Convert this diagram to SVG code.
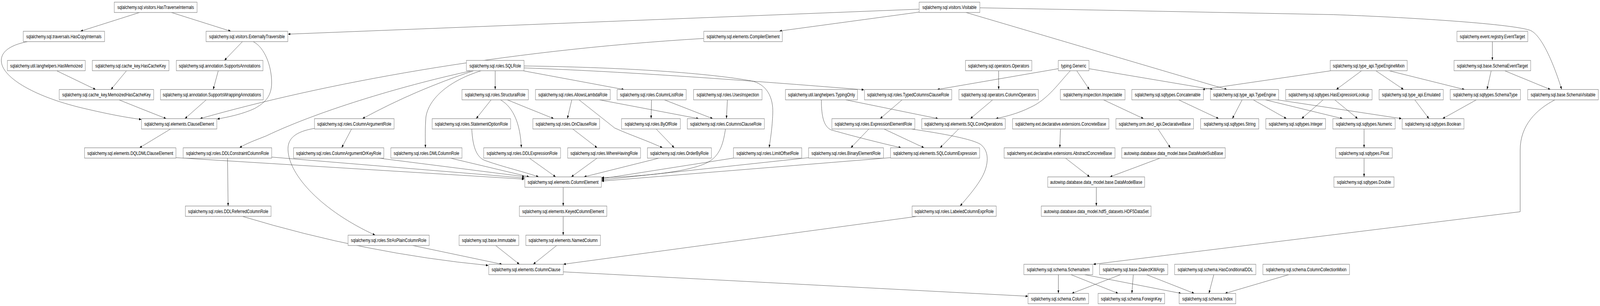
<svg xmlns="http://www.w3.org/2000/svg" width="5466" height="784" viewBox="0 0 5466 784" preserveAspectRatio="none" style="width:100vw;height:100vh;display:block">
<style>
.n rect{fill:#fff;stroke:#808080;stroke-width:1.2}
.n text{font-family:"Liberation Sans",Arial,sans-serif;font-size:13.3px;fill:#000;text-anchor:middle}
.e path{fill:none;stroke:#333;stroke-width:0.9;marker-end:url(#a)}
</style>
<defs>
<marker id="a" markerWidth="8" markerHeight="6" refX="8" refY="3" orient="auto" markerUnits="userSpaceOnUse"><path d="M0,0 L8,3 L0,6 z" fill="#000"/></marker>
</defs>
<rect width="5466" height="784" fill="#fff"/>
<g id="edges" class="e">
<path d="M476.7,32 L275,80"/>
<path d="M585.7,32 L788.3,80"/>
<path d="M94.3,106.6 C30,116 0,135 5,160 C12,200 120,250 300,280 C380,294 440,302 483,306"/>
<path d="M3140,23.5 L984,87.5"/>
<path d="M3140,31 L2663,79.5"/>
<path d="M3347.3,20 L4555,37.5 C4800,44 5150,60 5225,77 C5270,88 5315,180 5335,229"/>
<path d="M3300,32 L4191.7,229.4"/>
<path d="M828.3,106.6 L766.7,154.7"/>
<path d="M865,106.6 C905,122 928,170 928,212 C928,250 900,265 870,278 C830,292 780,300 742,305"/>
<path d="M193.3,181.2 L326.7,229.4"/>
<path d="M432.3,181.2 L379,229.4"/>
<path d="M745.7,181.2 L728.3,229.4"/>
<path d="M406.7,255.9 L567.7,304"/>
<path d="M704.3,255.9 L631.7,304"/>
<path d="M2404.3,98.5 C1700,130 1100,215 683.3,304"/>
<path d="M582.7,330.5 L476.7,378.6"/>
<path d="M1691.7,181.2 L1691.7,229.4"/>
<path d="M1644.3,181.2 C1540,205 1465,250 1455,300 C1452,330 1453,355 1453.3,378.6"/>
<path d="M1618.3,181.2 Q1420,230 1238.3,304"/>
<path d="M1611.7,181.2 C1400,215 1100,280 910,348 C870,360 840,368 818.3,378.6"/>
<path d="M1785.7,181.2 L2131.7,229.4"/>
<path d="M1790.3,169 C2100,172 2400,185 2565,207 C2620,215 2642,250 2640,290 C2638,330 2632,355 2627.7,378.6"/>
<path d="M1790.3,174 C2200,185 2700,215 2951.7,230"/>
<path d="M1677.7,255.9 L1626.7,304"/>
<path d="M1710,255.9 C1755,275 1778,320 1781,378.6"/>
<path d="M1733.3,255.9 L1891.7,304"/>
<path d="M1611.7,330.5 C1615,380 1630,405 1660,412 C1720,428 1790,440 1840,453.2"/>
<path d="M1538.3,405.1 L1808.3,453.2"/>
<path d="M1808.3,405.1 L1898.3,453.2"/>
<path d="M1953.3,255.9 L1938.3,304"/>
<path d="M1978.3,255.9 L2100,328 C2150,345 2210,360 2263.3,378.6"/>
<path d="M2048.3,255.9 L2386.7,304"/>
<path d="M2225.7,255.9 L2224.3,304"/>
<path d="M2270,255.9 L2435,304"/>
<path d="M2241.7,330.5 L2303.3,378.6"/>
<path d="M1956.7,330.5 L2040,378.6"/>
<path d="M2485,255.9 L2481.7,304"/>
<path d="M2040,405.1 L1951.7,453.2"/>
<path d="M2251.7,405.1 L1995,453.2"/>
<path d="M2478.3,330.5 C2470,375 2455,400 2420,415 C2360,440 2200,452 2055,455"/>
<path d="M2505.7,405 L2055,458"/>
<path d="M2762.3,404 L2055,461"/>
<path d="M3042.3,404 L2055,464"/>
<path d="M601,404 L1791,459"/>
<path d="M928.3,402.5 L1791.7,456"/>
<path d="M1291.7,405 L1791.7,452.5"/>
<path d="M1201,330.5 L1167.3,378.6"/>
<path d="M1074.3,329 C1000,338 982,360 984,385 C988,450 1100,540 1281.7,602.5"/>
<path d="M777.3,405.1 L779.3,527.9"/>
<path d="M828.3,554.4 Q1250,650 1668.3,680"/>
<path d="M1410,629 L1715,677.1"/>
<path d="M1693.3,629 L1774.3,677.1"/>
<path d="M1901.7,629 L1821.7,677.1"/>
<path d="M1924,554.4 L1924,602.5"/>
<path d="M1924,479.7 L1924,527.9"/>
<path d="M3133.3,554.4 L1925,677"/>
<path d="M1924.3,696.5 L3511.7,759"/>
<path d="M3081.7,255.9 L3006.7,304"/>
<path d="M2890,255.9 L3205,304"/>
<path d="M2806,255.9 C2806,300 2815,325 2840,333 C2920,350 3000,365 3078.3,378.6"/>
<path d="M2968.3,330.5 L2906.7,378.6"/>
<path d="M3020,330.5 L3156.7,378.6"/>
<path d="M3113.3,330.5 C3200,340 3320,355 3350,370 C3385,390 3375,430 3350,460 C3330,485 3300,510 3280,527.9"/>
<path d="M3411.7,181.2 L3411.7,229.4"/>
<path d="M3391,255.9 L3315,304"/>
<path d="M3275,330.5 L3211.7,378.6"/>
<path d="M3615.3,176 L3201.7,229.4"/>
<path d="M3656.7,181.2 C3620,210 3580,255 3520,275 C3480,290 3440,298 3401.7,304"/>
<path d="M3678.3,181.2 L3721.7,229.4"/>
<path d="M3720.3,176 L4143.3,229.4"/>
<path d="M3770,255.9 L3906.7,304"/>
<path d="M3956,330.5 L3998.3,378.6"/>
<path d="M3622.7,330.5 L3620.7,378.6"/>
<path d="M3640,405.1 L3722.7,453.2"/>
<path d="M3963.3,405.1 L3791.7,453.2"/>
<path d="M3745.3,479.7 L3745.3,527.9"/>
<path d="M4548,181.2 L4108,229.4"/>
<path d="M4026.7,255.9 L4163.3,304"/>
<path d="M4243.3,255.9 L4210,304"/>
<path d="M4281.7,255.9 L4395,304"/>
<path d="M4520,255.9 L4446.7,304"/>
<path d="M4323.3,255.9 L4586.7,304"/>
<path d="M4365,255.9 L4788.3,304"/>
<path d="M4560,255.9 L4638.3,304"/>
<path d="M4833.3,255.9 L4881.7,304"/>
<path d="M5043.3,255.9 L4928.3,304"/>
<path d="M4651.7,181.2 L4565,229.4"/>
<path d="M4700,181.2 L4795,229.4"/>
<path d="M4745,181.2 L5003.3,229.4"/>
<path d="M5098.3,106.6 L5098.3,154.7"/>
<path d="M5094.3,181.2 L5080,229.4"/>
<path d="M5140,181.2 L5296.7,229.4"/>
<path d="M4660,330.5 L4660,378.6"/>
<path d="M4660,405.1 L4660,453.2"/>
<path d="M5311.7,255.9 C5250,280 5193,320 5193.3,385 L5193.3,542.5 L3735,677.1"/>
<path d="M3615.7,703.6 L3615.7,751.75"/>
<path d="M3658.3,703.6 L3820,751.75"/>
<path d="M3705,703.6 L4035,751.75"/>
<path d="M3828.3,703.6 L3661.7,751.75"/>
<path d="M3871.7,703.6 L3866.7,751.75"/>
<path d="M3916.7,703.6 L4080,751.75"/>
<path d="M4146.7,703.6 L4130,751.75"/>
<path d="M4403.3,703.6 L4185,751.75"/>
</g>
<g id="n1" class="n"><rect x="390.3" y="5.5" width="283" height="26.5"/><text x="531.8" y="23.45">sqlalchemy.sql.visitors.HasTraverseInternals</text></g>
<g id="n2" class="n"><rect x="3140" y="5.5" width="207.3" height="26.5"/><text x="3243.65" y="23.45">sqlalchemy.sql.visitors.Visitable</text></g>
<g id="n3" class="n"><rect x="79.3" y="80.15" width="278" height="26.5"/><text x="218.3" y="98.1">sqlalchemy.sql.traversals.HasCopyInternals</text></g>
<g id="n4" class="n"><rect x="704" y="80.15" width="279.3" height="26.5"/><text x="843.65" y="98.1">sqlalchemy.sql.visitors.ExternallyTraversible</text></g>
<g id="n5" class="n"><rect x="2404.3" y="80.15" width="268.4" height="26.5"/><text x="2538.5" y="98.1">sqlalchemy.sql.elements.CompilerElement</text></g>
<g id="n6" class="n"><rect x="4977.3" y="80.15" width="242" height="26.5"/><text x="5098.3" y="98.1">sqlalchemy.event.registry.EventTarget</text></g>
<g id="n7" class="n"><rect x="25.3" y="154.75" width="266" height="26.5"/><text x="158.3" y="172.7">sqlalchemy.util.langhelpers.HasMemoized</text></g>
<g id="n8" class="n"><rect x="315.3" y="154.75" width="262" height="26.5"/><text x="446.3" y="172.7">sqlalchemy.sql.cache_key.HasCacheKey</text></g>
<g id="n9" class="n"><rect x="602.3" y="154.75" width="296" height="26.5"/><text x="750.3" y="172.7">sqlalchemy.sql.annotation.SupportsAnnotations</text></g>
<g id="n10" class="n"><rect x="1593.3" y="154.75" width="197" height="26.5"/><text x="1691.8" y="172.7">sqlalchemy.sql.roles.SQLRole</text></g>
<g id="n11" class="n"><rect x="3298.3" y="154.75" width="226.7" height="26.5"/><text x="3411.65" y="172.7">sqlalchemy.sql.operators.Operators</text></g>
<g id="n12" class="n"><rect x="3615.3" y="154.75" width="105" height="26.5"/><text x="3667.8" y="172.7">typing.Generic</text></g>
<g id="n13" class="n"><rect x="4544.3" y="154.75" width="263" height="26.5"/><text x="4675.8" y="172.7">sqlalchemy.sql.type_api.TypeEngineMixin</text></g>
<g id="n14" class="n"><rect x="4967.3" y="154.75" width="262" height="26.5"/><text x="5098.3" y="172.7">sqlalchemy.sql.base.SchemaEventTarget</text></g>
<g id="n15" class="n"><rect x="202.3" y="229.35" width="322.7" height="26.5"/><text x="363.65" y="247.3">sqlalchemy.sql.cache_key.MemoizedHasCacheKey</text></g>
<g id="n16" class="n"><rect x="548.3" y="229.35" width="351" height="26.5"/><text x="723.8" y="247.3">sqlalchemy.sql.annotation.SupportsWrappingAnnotations</text></g>
<g id="n17" class="n"><rect x="1578.3" y="229.35" width="226.7" height="26.5"/><text x="1691.65" y="247.3">sqlalchemy.sql.roles.StructuralRole</text></g>
<g id="n18" class="n"><rect x="1829.3" y="229.35" width="255.4" height="26.5"/><text x="1957" y="247.3">sqlalchemy.sql.roles.AllowsLambdaRole</text></g>
<g id="n19" class="n"><rect x="2108.3" y="229.35" width="236" height="26.5"/><text x="2226.3" y="247.3">sqlalchemy.sql.roles.ColumnListRole</text></g>
<g id="n20" class="n"><rect x="2369.3" y="229.35" width="234" height="26.5"/><text x="2486.3" y="247.3">sqlalchemy.sql.roles.UsesInspection</text></g>
<g id="n21" class="n"><rect x="2683.3" y="229.35" width="246" height="26.5"/><text x="2806.3" y="247.3">sqlalchemy.util.langhelpers.TypingOnly</text></g>
<g id="n22" class="n"><rect x="2953.3" y="229.35" width="298" height="26.5"/><text x="3102.3" y="247.3">sqlalchemy.sql.roles.TypedColumnsClauseRole</text></g>
<g id="n23" class="n"><rect x="3276" y="229.35" width="271.3" height="26.5"/><text x="3411.65" y="247.3">sqlalchemy.sql.operators.ColumnOperators</text></g>
<g id="n24" class="n"><rect x="3622.3" y="229.35" width="221" height="26.5"/><text x="3732.8" y="247.3">sqlalchemy.inspection.Inspectable</text></g>
<g id="n25" class="n"><rect x="3866.7" y="229.35" width="244.6" height="26.5"/><text x="3989" y="247.3">sqlalchemy.sql.sqltypes.Concatenable</text></g>
<g id="n26" class="n"><rect x="4135.3" y="229.35" width="232.7" height="26.5"/><text x="4251.65" y="247.3">sqlalchemy.sql.type_api.TypeEngine</text></g>
<g id="n27" class="n"><rect x="4392" y="229.35" width="295.3" height="26.5"/><text x="4539.65" y="247.3">sqlalchemy.sql.sqltypes.HasExpressionLookup</text></g>
<g id="n28" class="n"><rect x="4711.3" y="229.35" width="219.4" height="26.5"/><text x="4821" y="247.3">sqlalchemy.sql.type_api.Emulated</text></g>
<g id="n29" class="n"><rect x="4954.3" y="229.35" width="240" height="26.5"/><text x="5074.3" y="247.3">sqlalchemy.sql.sqltypes.SchemaType</text></g>
<g id="n30" class="n"><rect x="5219" y="229.35" width="241.3" height="26.5"/><text x="5339.65" y="247.3">sqlalchemy.sql.base.SchemaVisitable</text></g>
<g id="n31" class="n"><rect x="483.3" y="304" width="257.4" height="26.5"/><text x="612" y="321.95">sqlalchemy.sql.elements.ClauseElement</text></g>
<g id="n32" class="n"><rect x="1074.3" y="304" width="272" height="26.5"/><text x="1210.3" y="321.95">sqlalchemy.sql.roles.ColumnArgumentRole</text></g>
<g id="n33" class="n"><rect x="1476.3" y="304" width="268" height="26.5"/><text x="1610.3" y="321.95">sqlalchemy.sql.roles.StatementOptionRole</text></g>
<g id="n34" class="n"><rect x="1820.3" y="304" width="228" height="26.5"/><text x="1934.3" y="321.95">sqlalchemy.sql.roles.OnClauseRole</text></g>
<g id="n35" class="n"><rect x="2123.3" y="304" width="201" height="26.5"/><text x="2223.8" y="321.95">sqlalchemy.sql.roles.ByOfRole</text></g>
<g id="n36" class="n"><rect x="2348" y="304" width="263.3" height="26.5"/><text x="2479.65" y="321.95">sqlalchemy.sql.roles.ColumnsClauseRole</text></g>
<g id="n37" class="n"><rect x="2842" y="304" width="283.3" height="26.5"/><text x="2983.65" y="321.95">sqlalchemy.sql.roles.ExpressionElementRole</text></g>
<g id="n38" class="n"><rect x="3149" y="304" width="285.3" height="26.5"/><text x="3291.65" y="321.95">sqlalchemy.sql.elements.SQLCoreOperations</text></g>
<g id="n39" class="n"><rect x="3459" y="304" width="329.3" height="26.5"/><text x="3623.65" y="321.95">sqlalchemy.ext.declarative.extensions.ConcreteBase</text></g>
<g id="n40" class="n"><rect x="3812.3" y="304" width="265" height="26.5"/><text x="3944.8" y="321.95">sqlalchemy.orm.decl_api.DeclarativeBase</text></g>
<g id="n41" class="n"><rect x="4101.7" y="304" width="198.6" height="26.5"/><text x="4201" y="321.95">sqlalchemy.sql.sqltypes.String</text></g>
<g id="n42" class="n"><rect x="4324.3" y="304" width="204" height="26.5"/><text x="4426.3" y="321.95">sqlalchemy.sql.sqltypes.Integer</text></g>
<g id="n43" class="n"><rect x="4553.3" y="304" width="213" height="26.5"/><text x="4659.8" y="321.95">sqlalchemy.sql.sqltypes.Numeric</text></g>
<g id="n44" class="n"><rect x="4790" y="304" width="211.3" height="26.5"/><text x="4895.65" y="321.95">sqlalchemy.sql.sqltypes.Boolean</text></g>
<g id="n45" class="n"><rect x="288.7" y="378.65" width="312.3" height="26.5"/><text x="444.85" y="396.6">sqlalchemy.sql.elements.DQLDMLClauseElement</text></g>
<g id="n46" class="n"><rect x="625.7" y="378.65" width="302.6" height="26.5"/><text x="777" y="396.6">sqlalchemy.sql.roles.DDLConstraintColumnRole</text></g>
<g id="n47" class="n"><rect x="1002.7" y="378.65" width="308.6" height="26.5"/><text x="1157" y="396.6">sqlalchemy.sql.roles.ColumnArgumentOrKeyRole</text></g>
<g id="n48" class="n"><rect x="1335.3" y="378.65" width="243" height="26.5"/><text x="1456.8" y="396.6">sqlalchemy.sql.roles.DMLColumnRole</text></g>
<g id="n49" class="n"><rect x="1652.3" y="378.65" width="262.7" height="26.5"/><text x="1783.65" y="396.6">sqlalchemy.sql.roles.DDLExpressionRole</text></g>
<g id="n50" class="n"><rect x="1939.3" y="378.65" width="249" height="26.5"/><text x="2063.8" y="396.6">sqlalchemy.sql.roles.WhereHavingRole</text></g>
<g id="n51" class="n"><rect x="2211.7" y="378.65" width="218.6" height="26.5"/><text x="2321" y="396.6">sqlalchemy.sql.roles.OrderByRole</text></g>
<g id="n52" class="n"><rect x="2505.7" y="378.65" width="233.3" height="26.5"/><text x="2622.35" y="396.6">sqlalchemy.sql.roles.LimitOffsetRole</text></g>
<g id="n53" class="n"><rect x="2762.3" y="378.65" width="256" height="26.5"/><text x="2890.3" y="396.6">sqlalchemy.sql.roles.BinaryElementRole</text></g>
<g id="n54" class="n"><rect x="3042.3" y="378.65" width="304.4" height="26.5"/><text x="3194.5" y="396.6">sqlalchemy.sql.elements.SQLColumnExpression</text></g>
<g id="n55" class="n"><rect x="3430.3" y="378.65" width="378.7" height="26.5"/><text x="3619.65" y="396.6">sqlalchemy.ext.declarative.extensions.AbstractConcreteBase</text></g>
<g id="n56" class="n"><rect x="3832.3" y="378.65" width="353.4" height="26.5"/><text x="4009" y="396.6">autowisp.database.data_model.base.DataModelSubBase</text></g>
<g id="n57" class="n"><rect x="4563" y="378.65" width="193.3" height="26.5"/><text x="4659.65" y="396.6">sqlalchemy.sql.sqltypes.Float</text></g>
<g id="n58" class="n"><rect x="1793" y="453.25" width="261.3" height="26.5"/><text x="1923.65" y="471.2">sqlalchemy.sql.elements.ColumnElement</text></g>
<g id="n59" class="n"><rect x="3579.3" y="453.25" width="331" height="26.5"/><text x="3744.8" y="471.2">autowisp.database.data_model.base.DataModelBase</text></g>
<g id="n60" class="n"><rect x="4557" y="453.25" width="205.3" height="26.5"/><text x="4659.65" y="471.2">sqlalchemy.sql.sqltypes.Double</text></g>
<g id="n61" class="n"><rect x="633.3" y="527.85" width="292.7" height="26.5"/><text x="779.65" y="545.8">sqlalchemy.sql.roles.DDLReferredColumnRole</text></g>
<g id="n62" class="n"><rect x="1774.3" y="527.85" width="298.7" height="26.5"/><text x="1923.65" y="545.8">sqlalchemy.sql.elements.KeyedColumnElement</text></g>
<g id="n63" class="n"><rect x="3116" y="527.85" width="287.3" height="26.5"/><text x="3259.65" y="545.8">sqlalchemy.sql.roles.LabeledColumnExprRole</text></g>
<g id="n64" class="n"><rect x="3557.3" y="527.85" width="375" height="26.5"/><text x="3744.8" y="545.8">autowisp.database.data_model.hdf5_datasets.HDF5DataSet</text></g>
<g id="n65" class="n"><rect x="1189" y="602.5" width="277.3" height="26.5"/><text x="1327.65" y="620.45">sqlalchemy.sql.roles.StrAsPlainColumnRole</text></g>
<g id="n66" class="n"><rect x="1568.3" y="602.5" width="204" height="26.5"/><text x="1670.3" y="620.45">sqlalchemy.sql.base.Immutable</text></g>
<g id="n67" class="n"><rect x="1796.3" y="602.5" width="255" height="26.5"/><text x="1923.8" y="620.45">sqlalchemy.sql.elements.NamedColumn</text></g>
<g id="n68" class="n"><rect x="1669.7" y="677.15" width="254.6" height="26.5"/><text x="1797" y="695.1">sqlalchemy.sql.elements.ColumnClause</text></g>
<g id="n69" class="n"><rect x="3497.7" y="677.15" width="235.6" height="26.5"/><text x="3615.5" y="695.1">sqlalchemy.sql.schema.SchemaItem</text></g>
<g id="n70" class="n"><rect x="3756.3" y="677.15" width="233" height="26.5"/><text x="3872.8" y="695.1">sqlalchemy.sql.base.DialectKWArgs</text></g>
<g id="n71" class="n"><rect x="4012.7" y="677.15" width="277.6" height="26.5"/><text x="4151.5" y="695.1">sqlalchemy.sql.schema.HasConditionalDDL</text></g>
<g id="n72" class="n"><rect x="4314.3" y="677.15" width="296" height="26.5"/><text x="4462.3" y="695.1">sqlalchemy.sql.schema.ColumnCollectionMixin</text></g>
<g id="n73" class="n"><rect x="3512" y="751.75" width="207" height="26.5"/><text x="3615.5" y="769.7">sqlalchemy.sql.schema.Column</text></g>
<g id="n74" class="n"><rect x="3751.3" y="751.75" width="227.4" height="26.5"/><text x="3865" y="769.7">sqlalchemy.sql.schema.ForeignKey</text></g>
<g id="n75" class="n"><rect x="4028.3" y="751.75" width="193.4" height="26.5"/><text x="4125" y="769.7">sqlalchemy.sql.schema.Index</text></g>
</svg>
